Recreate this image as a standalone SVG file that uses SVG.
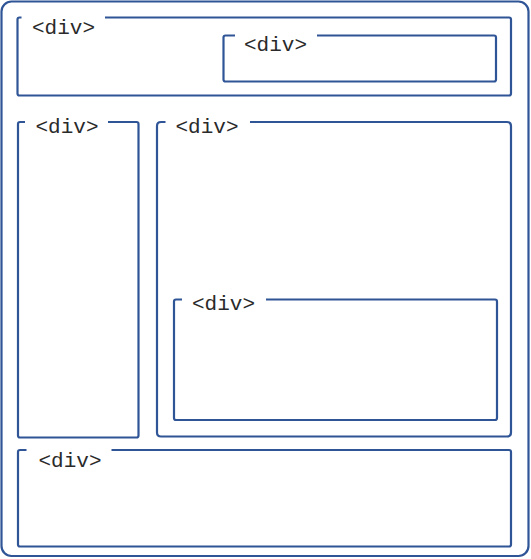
<svg xmlns="http://www.w3.org/2000/svg" width="531" height="559" viewBox="0 0 531 559">
<style>
.box{fill:none;stroke:#2F5597;stroke-width:2.2;stroke-linejoin:round;stroke-linecap:butt}
.lbl{font-family:"Liberation Mono","Courier New",monospace;font-size:21px;fill:#2a2a2a}
</style>
<rect width="531" height="559" fill="#fff"/>
<g id="outer">
<rect class="box" x="1.5" y="1.5" width="527" height="554.5" rx="10"/>
</g>
<g id="top">
<path class="box" d="M105 17.5 H509 Q511 17.5 511 19.5 V93.5 Q511 95.5 509 95.5 H19.5 Q17.5 95.5 17.5 93.5 V19.5 Q17.5 17.5 19.5 17.5 H21.5"/>
<text class="lbl" x="32" y="34">&lt;div&gt;</text>
</g>
<g id="top-inner">
<path class="box" d="M317 35.5 H494 Q496 35.5 496 37.5 V79.5 Q496 81.5 494 81.5 H225.5 Q223.5 81.5 223.5 79.5 V37.5 Q223.5 35.5 225.5 35.5 H235"/>
<text class="lbl" x="244" y="50.5">&lt;div&gt;</text>
</g>
<g id="left">
<path class="box" d="M108 122 H136.5 Q138.5 122 138.5 124 V435.5 Q138.5 437.5 136.5 437.5 H20 Q18 437.5 18 435.5 V124 Q18 122 20 122 H25"/>
<text class="lbl" x="35.5" y="132.5">&lt;div&gt;</text>
</g>
<g id="main">
<path class="box" d="M250 122 H507 Q511 122 511 126 V432.5 Q511 436.5 507 436.5 H161 Q157 436.5 157 432.5 V126 Q157 122 161 122 H165.5"/>
<text class="lbl" x="175.5" y="132.5">&lt;div&gt;</text>
</g>
<g id="inner">
<path class="box" d="M266 299.5 H495 Q497 299.5 497 301.5 V418 Q497 420 495 420 H176 Q174 420 174 418 V301.5 Q174 299.5 176 299.5 H182"/>
<text class="lbl" x="192" y="309.5">&lt;div&gt;</text>
</g>
<g id="bottom">
<path class="box" d="M111.5 450 H509 Q511 450 511 452 V544.5 Q511 546.5 509 546.5 H20 Q18 546.5 18 544.5 V452 Q18 450 20 450 H26.5"/>
<text class="lbl" x="38.5" y="466.5">&lt;div&gt;</text>
</g>
<g id="connectors"></g>
</svg>
